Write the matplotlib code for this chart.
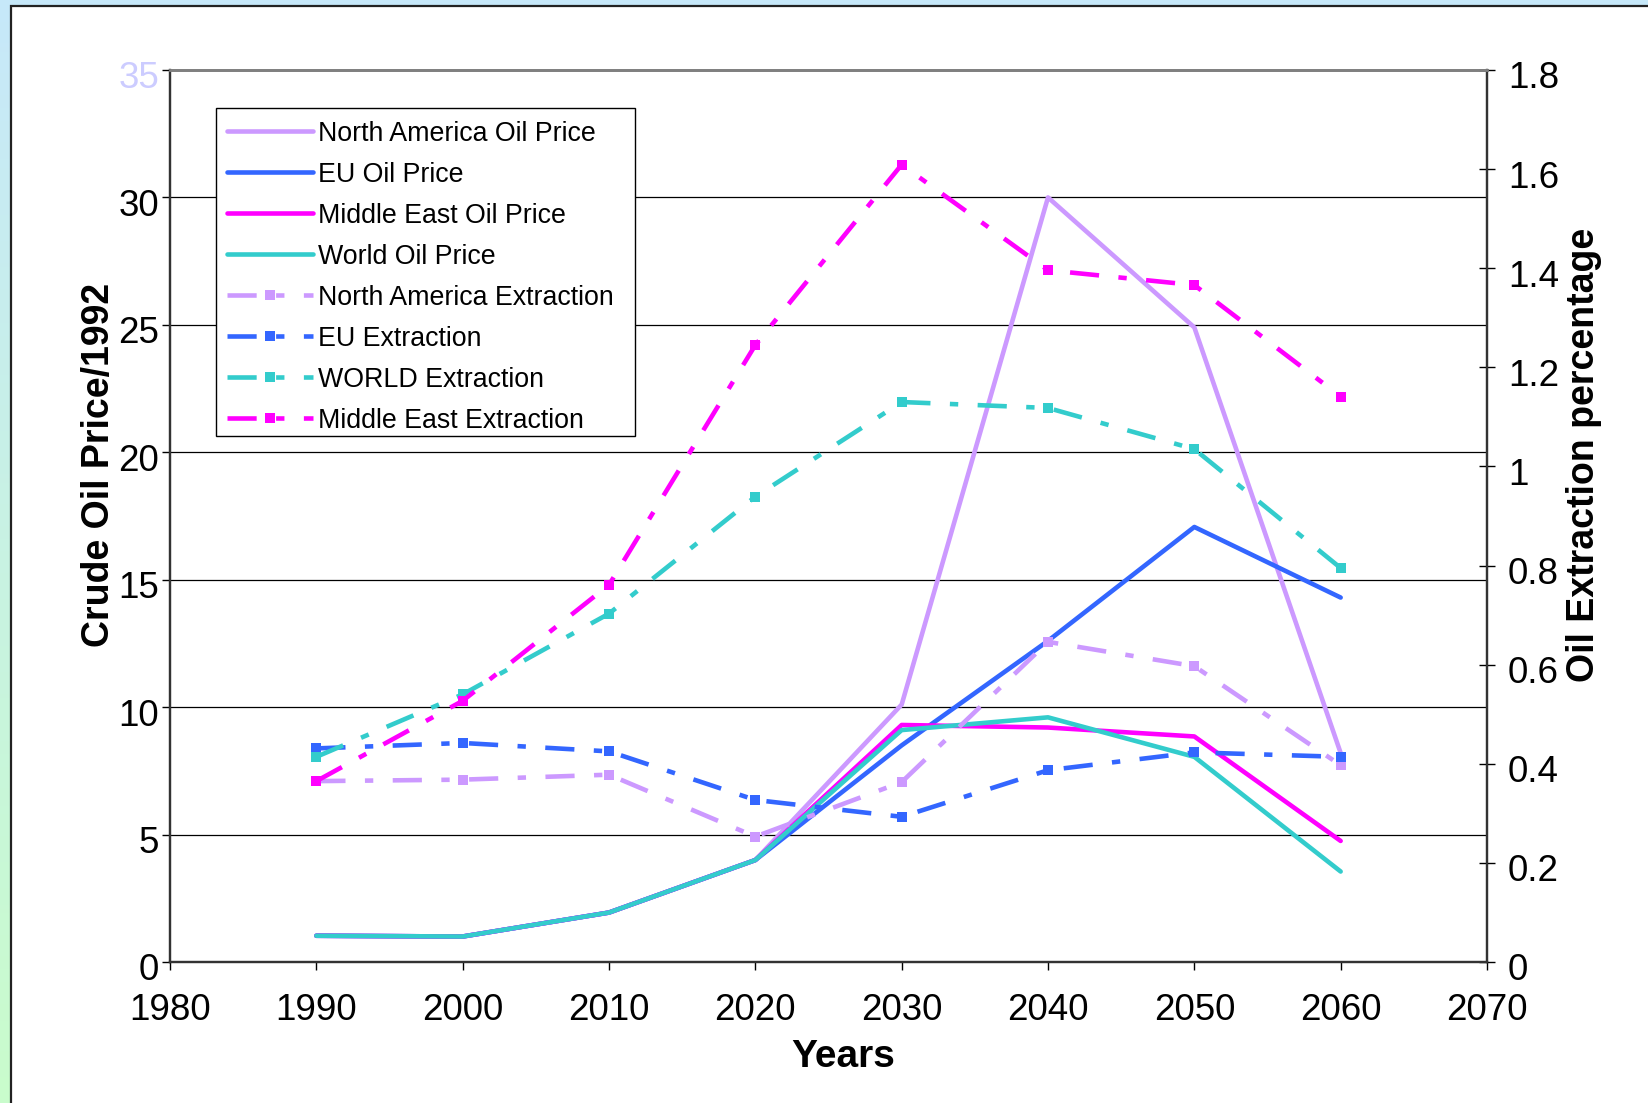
import numpy as np
import matplotlib.pyplot as plt
import matplotlib.transforms as mtransforms
from matplotlib.patches import Rectangle
from matplotlib.ticker import FuncFormatter

plt.rcParams['font.family'] = ['Liberation Sans', 'DejaVu Sans']
plt.rcParams['lines.scale_dashes'] = False

years = [1990, 2000, 2010, 2020, 2030, 2040, 2050, 2060]

# crude oil price (left axis)
na_price = [1.03, 1.0, 1.94, 4.0, 10.1, 30.0, 24.9, 8.2]
eu_price = [1.03, 1.0, 1.94, 4.0, 8.5, 12.6, 17.07, 14.3]
me_price = [1.03, 1.0, 1.94, 4.0, 9.3, 9.2, 8.85, 4.75]
world_price = [1.03, 1.0, 1.94, 4.0, 9.1, 9.6, 8.05, 3.55]

# extraction percentage (right axis)
na_extr = [0.365, 0.368, 0.378, 0.253, 0.363, 0.646, 0.597, 0.397]
eu_extr = [0.431, 0.442, 0.425, 0.327, 0.293, 0.387, 0.423, 0.414]
world_extr = [0.414, 0.540, 0.703, 0.939, 1.130, 1.118, 1.035, 0.795]
me_extr = [0.365, 0.527, 0.761, 1.245, 1.609, 1.396, 1.366, 1.141]

lav = '#cc99ff'
blue = '#3366ff'
mag = '#ff00ff'
teal = '#33cccc'

W, H = 1648, 1103
fig = plt.figure(figsize=(W / 100, H / 100), dpi=100)

# light blue -> light green backdrop with a white sheet on top
bg = fig.add_axes([0, 0, 1, 1], zorder=-10)
grad = np.linspace(0, 1, 256)[:, None]
c_top = np.array([0.78, 0.91, 0.98])
c_bot = np.array([0.79, 0.99, 0.80])
img = c_top[None, None, :] * (1 - grad[:, :, None]) + c_bot[None, None, :] * grad[:, :, None]
bg.imshow(img, aspect='auto', extent=[0, 1, 0, 1])
bg.add_patch(Rectangle((11 / W, -0.01), 1.0, 1 - 6 / H + 0.01,
                       facecolor='white', edgecolor='#222222', lw=1.6))
bg.set_xlim(0, 1)
bg.set_ylim(0, 1)
bg.axis('off')

ax = fig.add_axes([170 / W, 1 - 962 / H, (1487 - 170) / W, (962 - 70) / H])
ax2 = ax.twinx()

solid = dict(lw=3.3, solid_capstyle='round', solid_joinstyle='round')
l1, = ax.plot(years, na_price, color=lav, label='North America Oil Price', **solid)
l2, = ax.plot(years, eu_price, color=blue, label='EU Oil Price', **solid)
l3, = ax.plot(years, me_price, color=mag, label='Middle East Oil Price', **solid)
l4, = ax.plot(years, world_price, color=teal, label='World Oil Price', **solid)

dash = dict(lw=3.3, dashes=(21, 14, 6, 14), dash_capstyle='butt',
            marker='s', markersize=7.5, markeredgewidth=0)
l5, = ax2.plot(years, na_extr, color=lav, label='North America Extraction', **dash)
l6, = ax2.plot(years, eu_extr, color=blue, label='EU Extraction', **dash)
l7, = ax2.plot(years, world_extr, color=teal, label='WORLD Extraction', **dash)
l8, = ax2.plot(years, me_extr, color=mag, label='Middle East Extraction', **dash)

ax.set_xlim(1980, 2070)
ax.set_ylim(0, 35)
ax2.set_ylim(0, 1.8)
ax.set_xticks(range(1980, 2071, 10))
ax.set_yticks(range(0, 36, 5))
ax2.set_yticks(np.arange(0, 1.81, 0.2))
ax2.yaxis.set_major_formatter(FuncFormatter(lambda v, p: '%g' % round(v, 1)))

for y in range(5, 35, 5):
    ax.axhline(y, color='black', lw=0.9, zorder=0)

for a in (ax, ax2):
    a.set_facecolor('none')
    a.spines['top'].set_color('#808080')
    a.spines['top'].set_linewidth(2)
    for s in ('left', 'bottom', 'right'):
        a.spines[s].set_color('#333333')
        a.spines[s].set_linewidth(1.6)

ax.tick_params(axis='x', direction='out', length=6, width=1, labelsize=26.5, pad=16)
ax.tick_params(axis='y', direction='out', length=6, width=1, labelsize=26.5, pad=2)
ax2.tick_params(axis='y', direction='inout', length=12, width=1, labelsize=26.5, pad=9)
ax.get_yticklabels()[-1].set_color('#ccccff')

# value labels on both y axes sit a little below their tick
drop = mtransforms.ScaledTranslation(0, -5 / 100, fig.dpi_scale_trans)
for lab in ax.get_yticklabels() + ax2.get_yticklabels():
    lab.set_transform(lab.get_transform() + drop)

ax.set_xlabel('Years', fontsize=28, fontweight='bold')
ax.xaxis.set_label_coords(843 / W, 1 - 1039 / H, transform=fig.transFigure)
ax.set_ylabel('Crude Oil Price/1992', fontsize=27, fontweight='bold')
ax.yaxis.set_label_coords(117 / W, 1 - 465 / H, transform=fig.transFigure)
ax2.set_ylabel('Oil Extraction percentage', fontsize=27, fontweight='bold')
ax2.yaxis.set_label_coords(1566 / W, 1 - 455 / H, transform=fig.transFigure)

# legend box drawn by hand, entries placed inside it
ax2.add_patch(Rectangle((216 / W, 1 - 436 / H), (635 - 216) / W, (436 - 108) / H,
                        transform=fig.transFigure, facecolor='white',
                        edgecolor='black', lw=1.0, zorder=4.5, clip_on=False))
handles = [l1, l2, l3, l4, l5, l6, l7, l8]
leg = ax2.legend(handles=handles, loc='upper left',
                 bbox_to_anchor=(216 / W, 1 - 110 / H), bbox_transform=fig.transFigure,
                 borderaxespad=0, fontsize=19.3, frameon=False,
                 handlelength=3.2, handletextpad=0.2,
                 labelspacing=0.56, borderpad=0.4, numpoints=1)

fig.savefig('out.png', dpi=100)
